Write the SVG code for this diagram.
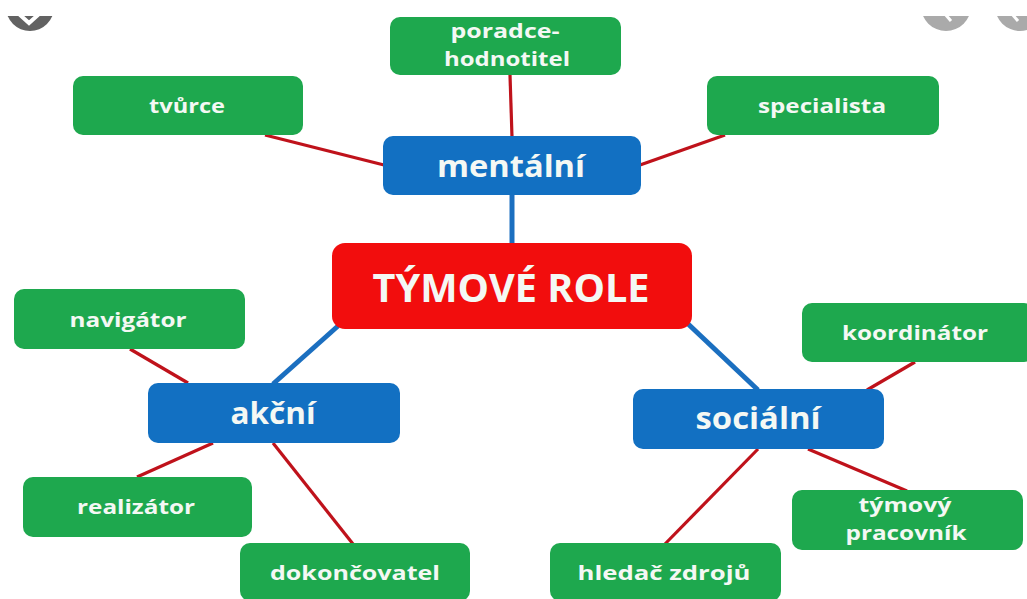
<svg xmlns="http://www.w3.org/2000/svg" width="1027" height="599" viewBox="0 0 1027 599">
  <style>
    .leaf rect { fill: #1ea84e; }
    .group rect { fill: #1270c2; }
    .root rect { fill: #f20d0d; }
    text { font-family: "Open Sans", "Liberation Sans", sans-serif; font-weight: bold; fill: #f4f8f4; text-anchor: middle; }
    .leaf text { font-size: 20px; }
    .group text { font-size: 30px; }
    .root text { font-size: 40px; }
    .red { stroke: #bf121b; stroke-width: 3.2; fill: none; }
    .blue { stroke: #1b6fc0; stroke-width: 5; fill: none; }
  </style>
  <defs>
    <clipPath id="topStrip"><rect x="0" y="16" width="1027" height="40"/></clipPath>
  </defs>

  <rect width="1027" height="599" fill="#ffffff"/>

  <!-- viewer buttons peeking in at the top edge -->
  <g clip-path="url(#topStrip)">
    <circle cx="30" cy="7" r="24" fill="#626262"/>
    <polyline points="19,14 29,23 39,14" fill="none" stroke="#ffffff" stroke-width="4"/>
    <circle cx="946" cy="6" r="25" fill="#aaaaaa"/>
    <line x1="945" y1="14" x2="951" y2="21" stroke="#ffffff" stroke-width="3"/>
    <circle cx="1020" cy="6" r="25" fill="#aaaaaa"/>
    <line x1="1012" y1="14" x2="1018" y2="21" stroke="#ffffff" stroke-width="3"/>
  </g>

  <!-- connectors -->
  <g id="connectors">
    <line class="blue" x1="512" y1="195" x2="512" y2="244"/>
    <line class="blue" x1="338" y1="326" x2="273" y2="384"/>
    <line class="blue" x1="686" y1="322" x2="758" y2="390"/>
    <line class="red" x1="510" y1="75" x2="512" y2="137"/>
    <line class="red" x1="265" y1="135" x2="384" y2="165"/>
    <line class="red" x1="725" y1="135" x2="640" y2="165"/>
    <line class="red" x1="130" y1="349" x2="188" y2="383"/>
    <line class="red" x1="213" y1="443" x2="137" y2="477"/>
    <line class="red" x1="273" y1="443" x2="353" y2="544"/>
    <line class="red" x1="915" y1="362" x2="867" y2="390"/>
    <line class="red" x1="808" y1="449" x2="907" y2="491"/>
    <line class="red" x1="758" y1="449" x2="665" y2="544"/>
  </g>

  <!-- root -->
  <g id="tymove-role" class="root">
    <rect x="332" y="243" width="360" height="86" rx="13"/>
    <text x="511" y="302" textLength="277" lengthAdjust="spacingAndGlyphs">TÝMOVÉ ROLE</text>
  </g>

  <!-- groups -->
  <g id="mentalni" class="group">
    <rect x="383" y="136" width="258" height="59" rx="10"/>
    <text x="511" y="177" textLength="148" lengthAdjust="spacingAndGlyphs">mentální</text>
  </g>
  <g id="akcni" class="group">
    <rect x="148" y="383" width="252" height="60" rx="10"/>
    <text x="273" y="424" textLength="85" lengthAdjust="spacingAndGlyphs">akční</text>
  </g>
  <g id="socialni" class="group">
    <rect x="633" y="389" width="251" height="60" rx="10"/>
    <text x="758" y="429" textLength="125" lengthAdjust="spacingAndGlyphs">sociální</text>
  </g>

  <!-- roles -->
  <g id="poradce-hodnotitel" class="leaf">
    <rect x="390" y="17" width="231" height="58" rx="10"/>
    <text x="505" y="38" textLength="109" lengthAdjust="spacingAndGlyphs">poradce-</text>
    <text x="507" y="66" textLength="126" lengthAdjust="spacingAndGlyphs">hodnotitel</text>
  </g>
  <g id="tvurce" class="leaf">
    <rect x="73" y="76" width="230" height="59" rx="10"/>
    <text x="187" y="113" textLength="76" lengthAdjust="spacingAndGlyphs">tvůrce</text>
  </g>
  <g id="specialista" class="leaf">
    <rect x="707" y="76" width="232" height="59" rx="10"/>
    <text x="822" y="113" textLength="128" lengthAdjust="spacingAndGlyphs">specialista</text>
  </g>
  <g id="navigator" class="leaf">
    <rect x="14" y="289" width="231" height="60" rx="10"/>
    <text x="128" y="327" textLength="117" lengthAdjust="spacingAndGlyphs">navigátor</text>
  </g>
  <g id="realizator" class="leaf">
    <rect x="23" y="477" width="229" height="60" rx="10"/>
    <text x="136" y="514" textLength="118" lengthAdjust="spacingAndGlyphs">realizátor</text>
  </g>
  <g id="dokoncovatel" class="leaf">
    <rect x="240" y="543" width="230" height="58" rx="10"/>
    <text x="355" y="580" textLength="170" lengthAdjust="spacingAndGlyphs">dokončovatel</text>
  </g>
  <g id="koordinator" class="leaf">
    <rect x="802" y="303" width="232" height="59" rx="10"/>
    <text x="915" y="340" textLength="146" lengthAdjust="spacingAndGlyphs">koordinátor</text>
  </g>
  <g id="tymovy-pracovnik" class="leaf">
    <rect x="792" y="490" width="231" height="60" rx="10"/>
    <text x="905" y="512" textLength="93" lengthAdjust="spacingAndGlyphs">týmový</text>
    <text x="906" y="540" textLength="121" lengthAdjust="spacingAndGlyphs">pracovník</text>
  </g>
  <g id="hledac-zdroju" class="leaf">
    <rect x="550" y="543" width="231" height="58" rx="10"/>
    <text x="664" y="580" textLength="173" lengthAdjust="spacingAndGlyphs">hledač zdrojů</text>
  </g>
</svg>
